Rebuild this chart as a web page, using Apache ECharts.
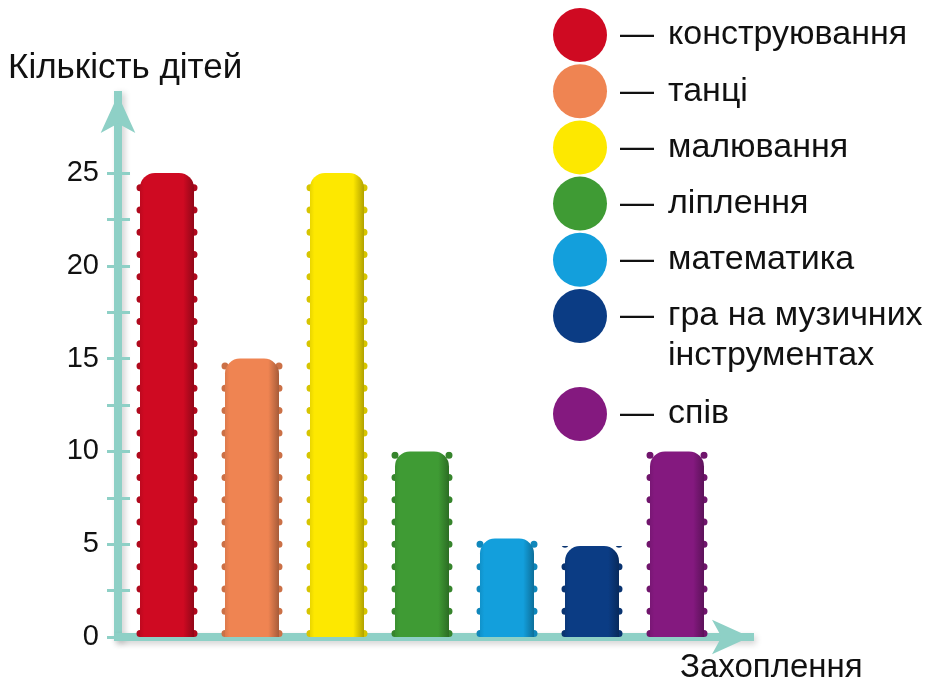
<!DOCTYPE html>
<html>
<head>
<meta charset="utf-8">
<script src="https://cdn.jsdelivr.net/npm/echarts@6/dist/echarts.min.js"></script>
<style>
html,body{margin:0;padding:0;background:#fff;}
#chart{width:925px;height:683px;}
</style>
</head>
<body>
<div id="chart"></div>
<script>
const categories = ['конструювання', 'танці', 'малювання', 'ліплення', 'математика', 'гра на музичних інструментах', 'спів'];
const values = [25, 15, 25, 10, 5.3, 4.9, 10];
const colors = ['#cf0a22', '#ef8452', '#fde800', '#3f9b34', '#139fdc', '#0b3c84', '#84197f'];
const yTickValues = [0, 2.5, 5, 7.5, 10, 12.5, 15, 17.5, 20, 22.5, 25];
const yLabelValues = [0, 5, 10, 15, 20, 25];
const yAxisTitle = 'Кількість дітей';
const xAxisTitle = 'Захоплення';
const musicFirstLine = 'гра на музичних';
const musicSecondLine = 'інструментах';

const FONT = 'Liberation Sans';
const AXIS_COLOR = '#8ed0c6';
const Y_MAX = 29.2;

function shade(hex, f) {
  const n = parseInt(hex.slice(1), 16);
  let r = (n >> 16) & 255, g = (n >> 8) & 255, b = n & 255;
  r = Math.round(r * f); g = Math.round(g * f); b = Math.round(b * f);
  return 'rgb(' + r + ',' + g + ',' + b + ')';
}

const barSeries = categories.map((name, i) => ({
  name: name,
  type: 'bar',
  xAxisIndex: 0,
  yAxisIndex: 0,
  stack: 'all',
  barWidth: 54,
  z: 3,
  color: colors[i],
  itemStyle: {
    color: {
      type: 'linear', x: 0, y: 0, x2: 1, y2: 0,
      colorStops: [
        { offset: 0, color: shade(colors[i], 0.92) },
        { offset: 0.08, color: colors[i] },
        { offset: 0.8, color: colors[i] },
        { offset: 1, color: shade(colors[i], 0.7) }
      ]
    },
    borderRadius: [15, 15, 0, 0]
  },
  data: categories.map((c, j) => (j === i ? values[i] : '-'))
}));

const bumpSeries = {
  type: 'pictorialBar',
  xAxisIndex: 0,
  yAxisIndex: 0,
  z: 2,
  barWidth: 61,
  symbol: 'path://M3.5,0A3.5,3.5 0 1,1 3.5,7A3.5,3.5 0 1,1 3.5,0Z M57.5,0A3.5,3.5 0 1,1 57.5,7A3.5,3.5 0 1,1 57.5,0Z',
  symbolSize: [61, 7],
  symbolRepeat: true,
  symbolMargin: 8,
  symbolClip: true,
  silent: true,
  legendHoverLink: false,
  data: values.map((v, i) => ({ value: v, itemStyle: { color: shade(colors[i], 0.85) } }))
};

const legendText = {
  fontFamily: FONT,
  fontSize: 34,
  color: '#111',
  padding: [0, 0, 0, 8],
  rich: {
    d: { fontFamily: FONT, fontSize: 34, color: '#111', width: 48 },
    t: { fontFamily: FONT, fontSize: 34, color: '#111' }
  }
};
const legendFormatter = name => '{d|—}{t|' + (name === categories[5] ? musicFirstLine : name) + '}';
const legendItem = i => ({ name: categories[i], itemStyle: { color: colors[i] } });

const option = {
  animation: false,
  backgroundColor: '#fff',
  title: [
    { text: yAxisTitle, left: 3, top: 46, textStyle: { fontFamily: FONT, fontSize: 35, fontWeight: 'normal', color: '#111' } },
    { text: xAxisTitle, left: 675, top: 646, textStyle: { fontFamily: FONT, fontSize: 33, fontWeight: 'normal', color: '#111' } }
  ],
  legend: [
    {
      data: [0, 1, 2, 3, 4, 5].map(legendItem),
      orient: 'vertical',
      left: 553, top: 8, padding: 0,
      itemWidth: 54, itemHeight: 54, itemGap: 2.2,
      icon: 'circle',
      selectedMode: false,
      formatter: legendFormatter,
      textStyle: legendText
    },
    {
      data: [6].map(legendItem),
      orient: 'vertical',
      left: 553, top: 387, padding: 0,
      itemWidth: 54, itemHeight: 54,
      icon: 'circle',
      selectedMode: false,
      formatter: legendFormatter,
      textStyle: legendText
    }
  ],
  graphic: [
    { type: 'text', left: 668, top: 339, style: { text: musicSecondLine, fontFamily: FONT, fontSize: 34, fill: '#111' } }
  ],
  grid: [
    { left: 124.5, width: 595, top: 95, bottom: 46 },
    { left: 118, right: 175, top: 95, bottom: 46 }
  ],
  xAxis: [
    {
      gridIndex: 0, type: 'category', data: categories, boundaryGap: true,
      axisLine: { show: false }, axisTick: { show: false }, axisLabel: { show: false }, splitLine: { show: false }
    },
    {
      gridIndex: 1, type: 'value', min: 0, max: 1,
      axisLine: {
        show: true, symbol: ['none', 'arrow'], symbolSize: [26, 38],
        lineStyle: { color: AXIS_COLOR, width: 8, cap: 'square', shadowColor: 'rgba(0,0,0,0.18)', shadowBlur: 6, shadowOffsetX: 2, shadowOffsetY: 3 }
      },
      axisTick: { show: false }, axisLabel: { show: false }, splitLine: { show: false }
    }
  ],
  yAxis: [
    {
      gridIndex: 0, type: 'value', min: 0, max: Y_MAX,
      axisLine: { show: false }, axisTick: { show: false }, axisLabel: { show: false }, splitLine: { show: false }
    },
    {
      gridIndex: 1, type: 'value', min: 0, max: Y_MAX, position: 'left',
      axisLine: {
        show: true, symbol: ['none', 'arrow'], symbolSize: [26, 38],
        lineStyle: { color: AXIS_COLOR, width: 8, cap: 'square', shadowColor: 'rgba(0,0,0,0.18)', shadowBlur: 6, shadowOffsetX: 3, shadowOffsetY: 2 }
      },
      axisTick: { show: true, length: 11, customValues: yTickValues, lineStyle: { color: AXIS_COLOR, width: 3 } },
      axisLabel: { show: true, customValues: yLabelValues, margin: 19, fontFamily: FONT, fontSize: 29, color: '#111' },
      splitLine: { show: false }
    },
    {
      gridIndex: 1, type: 'value', min: 0, max: Y_MAX, position: 'left',
      axisLine: { show: false },
      axisTick: { show: true, inside: true, length: 12, customValues: yTickValues, lineStyle: { color: AXIS_COLOR, width: 3 } },
      axisLabel: { show: false }, splitLine: { show: false }
    }
  ],
  series: barSeries.concat([bumpSeries])
};

const chart = echarts.init(document.getElementById('chart'));
chart.setOption(option);
</script>
</body>
</html>
